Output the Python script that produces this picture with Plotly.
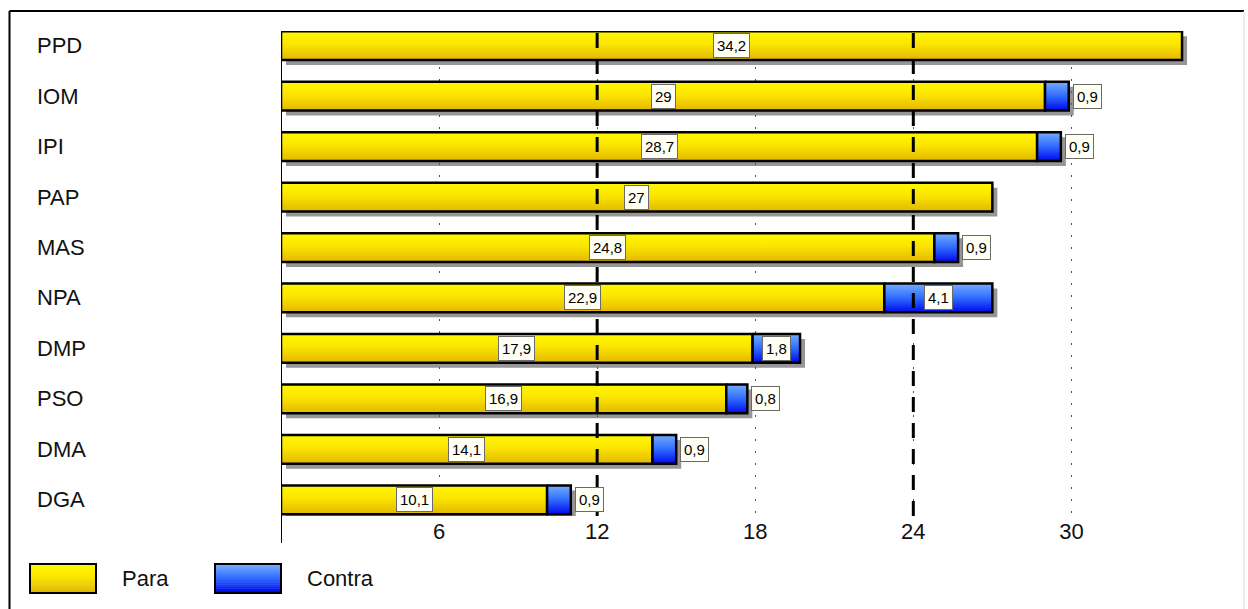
import plotly.graph_objects as go
from plotly.colors import sample_colorscale

# Votes per list: "Para" (for) and "Contra" (against)
partidos = ["PPD", "IOM", "IPI", "PAP", "MAS", "NPA", "DMP", "PSO", "DMA", "DGA"]
para = [34.2, 29, 28.7, 27, 24.8, 22.9, 17.9, 16.9, 14.1, 10.1]
contra = [0, 0.9, 0.9, 0, 0.9, 4.1, 1.8, 0.8, 0.9, 0.9]
series_names = ["Para", "Contra"]
x_ticks = [6, 12, 18, 24, 30]
ref_lines = [12, 24]

# Page / plot geometry (pixels)
W, H = 1248, 609
L, R, T, B = 281, 8, 31, 93
PW, PH = W - L - R, H - T - B
X_RANGE = [0, 36.4]
Y_RANGE = [9.32, -0.29]
BAR_W = 0.57
FONT = "Liberation Sans"

# vertical gradients, listed bottom -> top
YELLOW_GRAD = [[0, "#E2B700"], [0.55, "#FBE500"], [1, "#FFF800"]]
BLUE_GRAD = [[0, "#0008EE"], [0.5, "#2F6BFF"], [1, "#74ADFF"]]

sx = PW / (X_RANGE[1] - X_RANGE[0])
sy = PH / (Y_RANGE[0] - Y_RANGE[1])


def px(xp):
    return (xp - L) / PW


def py(yp):
    return (T + PH - yp) / PH


def fmt(v):
    return f"{v:g}".replace(".", ",")


fig = go.Figure()
h = BAR_W / 2


def add_segment(i, x0, x1, grad, name):
    fig.add_trace(go.Scatter(
        x=[x0, x1, x1, x0, x0], y=[i - h, i - h, i + h, i + h, i - h],
        mode="lines", fill="toself",
        fillgradient=dict(type="vertical", colorscale=grad),
        line=dict(color="black", width=2.5),
        name=name, showlegend=False, hoverinfo="text",
        hovertext=f"{partidos[i]} – {name}: {fmt(x1 - x0)}",
    ))


for i, (p, c) in enumerate(zip(para, contra)):
    add_segment(i, 0, p, YELLOW_GRAD, series_names[0])
    if c > 0:
        add_segment(i, p, p + c, BLUE_GRAD, series_names[1])

shapes = []
annotations = []

# drop shadows behind each stacked bar
dx, dy = 5 / sx, 5 / sy
for i, (p, c) in enumerate(zip(para, contra)):
    shapes.append(dict(
        type="rect", xref="x", yref="y", layer="below",
        x0=dx, x1=p + c + dx, y0=i - h + dy, y1=i + h + dy,
        fillcolor="rgba(105,105,105,0.7)", line=dict(width=0),
    ))

# vertical axis line at zero
shapes.append(dict(type="line", xref="x", yref="paper", x0=0, x1=0,
                   y0=py(543), y1=py(31), line=dict(color="black", width=2)))

# reference thresholds
for v in ref_lines:
    shapes.append(dict(type="line", xref="x", yref="paper", x0=v, x1=v,
                       y0=0, y1=1, layer="above",
                       line=dict(color="black", width=3, dash="15px,11px")))

# outer frame
shapes.append(dict(type="line", xref="paper", yref="paper",
                   x0=px(9.5), x1=px(9.5), y0=py(11), y1=py(H + 2),
                   line=dict(color="black", width=2)))
shapes.append(dict(type="line", xref="paper", yref="paper",
                   x0=px(9.5), x1=px(1244), y0=py(11), y1=py(11),
                   line=dict(color="black", width=2)))
shapes.append(dict(type="line", xref="paper", yref="paper",
                   x0=px(1244), x1=px(1244), y0=py(11), y1=py(H + 2),
                   line=dict(color="#d8d8d8", width=1)))

# category labels, left aligned
for i, name in enumerate(partidos):
    annotations.append(dict(
        x=px(35), xref="paper", y=i, yref="y", text=name, showarrow=False,
        xanchor="left", yanchor="middle",
        font=dict(family=FONT, size=22, color="#111"),
    ))

# value labels
box = dict(bgcolor="#FFFFF4", bordercolor="#6a6a6a", borderwidth=1, borderpad=3,
           showarrow=False, font=dict(family=FONT, size=15, color="black"))
for i, (p, c) in enumerate(zip(para, contra)):
    annotations.append(dict(x=p / 2, y=i, text=fmt(p), xanchor="center", **box))
    if c > 0:
        if c >= 1.5:
            annotations.append(dict(x=p + c / 2, y=i, text=fmt(c),
                                    xanchor="center", **box))
        else:
            annotations.append(dict(x=p + c, y=i, text=fmt(c), xanchor="left",
                                    xshift=4, **box))

# legend keys: gradient swatches built from thin strips, then an outline
legend_items = [(series_names[0], YELLOW_GRAD, 30, 96, 120),
                (series_names[1], BLUE_GRAD, 215, 281, 305)]
KEY_TOP, KEY_BOT, STRIPS = 564, 593, 14
for label, grad, bx0, bx1, tx in legend_items:
    cols = sample_colorscale(grad, [k / (STRIPS - 1) for k in range(STRIPS)])
    step = (KEY_BOT - KEY_TOP) / STRIPS
    for k, col in enumerate(cols):
        yb = KEY_BOT - k * step
        shapes.append(dict(type="rect", xref="paper", yref="paper",
                           x0=px(bx0), x1=px(bx1), y0=py(yb), y1=py(yb - step - 0.5),
                           fillcolor=col, line=dict(width=0)))
    shapes.append(dict(type="rect", xref="paper", yref="paper",
                       x0=px(bx0), x1=px(bx1), y0=py(KEY_BOT), y1=py(KEY_TOP),
                       line=dict(color="black", width=2)))
    annotations.append(dict(x=px(tx), y=py(578.5), xref="paper", yref="paper",
                            text=label, showarrow=False, xanchor="left",
                            yanchor="middle",
                            font=dict(family=FONT, size=22, color="#111")))

fig.update_layout(
    width=W, height=H, margin=dict(l=L, r=R, t=T, b=B),
    showlegend=False,
    paper_bgcolor="white", plot_bgcolor="white",
    shapes=shapes, annotations=annotations,
    xaxis=dict(range=X_RANGE, tickvals=x_ticks, ticktext=[str(t) for t in x_ticks],
               showgrid=True, gridcolor="#555", griddash="2px,10px", gridwidth=1,
               zeroline=False, showline=False, ticks="",
               tickfont=dict(family=FONT, size=22, color="#111")),
    yaxis=dict(range=Y_RANGE, showticklabels=False, showgrid=False,
               zeroline=False, showline=False, ticks=""),
)

fig.write_html("out.html")
